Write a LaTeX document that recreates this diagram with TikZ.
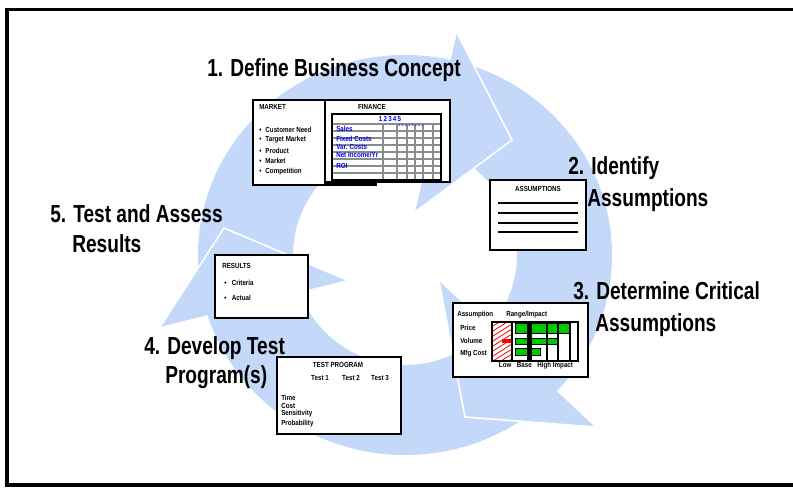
\documentclass[tikz,border=0pt]{standalone}
\usepackage{fontspec}
\setmainfont{Liberation Sans}
\newfontfamily\headfont[FakeStretch=0.775]{Liberation Sans}
\newfontfamily\smallfont[FakeStretch=0.85]{Liberation Sans}
\definecolor{ringblue}{RGB}{196,216,249}
\definecolor{chartgreen}{RGB}{0,200,0}
\definecolor{tblue}{RGB}{0,0,235}
\definecolor{gridgray}{RGB}{140,140,140}

\begin{document}
\begin{tikzpicture}[x=0.75pt,y=-0.75pt,
  steplabel/.style={font=\headfont\bfseries\fontsize{18.5}{21}\selectfont, inner sep=0pt, anchor=base west},
  slide/.style={draw=black, line width=1.5pt, fill=white},
  tinytext/.style={font=\smallfont\bfseries\fontsize{5.5}{6}\selectfont, inner sep=0pt},
  bluetext/.style={tinytext, text=tblue},
  seam/.style={white, line width=1.2pt, line join=miter},
  gridline/.style={gridgray, line width=0.8pt},
  bar/.style={fill=chartgreen, draw=black, line width=0.4pt}]

\clip (0,0) rectangle (793,488);
\fill[white] (0,0) rectangle (793,488);

% outer frame (its right side runs off the page)
\draw[line width=2.6pt] (800,9.5) -- (7,9.5) -- (7,485) -- (800,485);

% the cycle: a ring with three big arrowheads
\fill[ringblue, even odd rule] (405,255) ellipse [x radius=207, y radius=200]
                               (405,255) ellipse [x radius=112, y radius=110];
\fill[ringblue] (457,33) -- (512,140) -- (415,212) -- cycle;
\fill[ringblue] (595,427) -- (465,417) -- (439,281) -- cycle;
\fill[ringblue] (160,327) -- (224,228) -- (347,280) -- cycle;
% seams where each head meets the next tail
\draw[seam] (457,33) -- (512,140) -- (415,212);
\draw[seam] (595,427) -- (465,417) -- (439,281);
\draw[seam] (160,327) -- (224,228) -- (347,280);

% ---- slide 1: market + finance ----
\draw[slide] (253,100) rectangle (325,185);
\node[tinytext, anchor=west] (mkt) at (259,107) {MARKET};
\foreach \yy/\tt [count=\i] in {130/Customer Need,140/Target Market,151/Product/Service,161/Market,172/Competition}{
  \node[tinytext, anchor=west] (mb\i) at (259,\yy) {•\hspace{3pt}\tt};
}
\draw[slide] (325,100) rectangle (450,182);
\draw[line width=2.4pt] (325,184) -- (377,184);
\node[tinytext] (fin) at (372,107) {FINANCE};
\draw[line width=1.1pt] (332,114) rectangle (441,180);
\foreach \yy in {124,131,138,145,152,159,166,173}{\draw[gridline] (333,\yy) -- (440,\yy);}
\foreach \xx in {383,397,407,415,423,433}{\draw[gridline] (\xx,124) -- (\xx,179);}
\node[bluetext] (fh1) at (390,119) {1\,2\,3\,4\,5};
\node[bluetext] (fh2) at (411,126) {-\,-\,-\,-\,-\,-\,-\,-};
\node[bluetext, anchor=west] (fr1) at (336,129) {Sales};
\node[bluetext, anchor=west] (fr2) at (336,139) {Fixed Costs};
\node[bluetext, anchor=west] (fr3) at (336,147) {Var. Costs};
\node[bluetext, anchor=west] (fr4) at (336,155) {Net Income/Yr};
\node[bluetext, anchor=west] (fr5) at (336,166) {ROI};

% ---- slide 2: assumptions ----
\draw[slide] (490,180) rectangle (586,250);
\node[tinytext] (asm) at (538,189) {ASSUMPTIONS};
\foreach \yy in {203,213,223,232}{\draw[line width=1.2pt] (498,\yy) -- (578,\yy);}

% ---- slide 3: critical assumptions chart ----
\draw[slide] (453,303) rectangle (588,377);
\node[tinytext, anchor=west] (ch1) at (457,315) {Assumption};
\node[tinytext, anchor=west] (ch2) at (506,315) {Range/Impact};
\node[tinytext, anchor=west] (cr1) at (460,328) {Price};
\node[tinytext, anchor=west] (cr2) at (460,341) {Volume};
\node[tinytext, anchor=west] (cr3) at (460,354) {Mfg Cost};
\begin{scope}
  \clip (493,322) rectangle (512,361);
  \foreach \k in {0,...,10}{\draw[red, line width=0.6pt] (493,326+5*\k) -- (512,314+5*\k);}
\end{scope}
\draw[bar] (515,323) rectangle (570,333);
\draw[bar] (515,338) rectangle (557,344);
\fill[red] (502,339) rectangle (513,343);
\draw[bar] (515,348) rectangle (540,355);
\draw[line width=0.8pt] (492,322) rectangle (578,361);
\foreach \xx in {512,547,558,570}{\draw[line width=0.8pt] (\xx,322) -- (\xx,361);}
\fill[black] (527,322) rectangle (532,361);
\node[tinytext] (cax) at (536,366) {Low \; Base \; High Impact};

% ---- slide 4: test program ----
\draw[slide] (277,357) rectangle (401,434);
\node[tinytext] (tp) at (338,365) {TEST PROGRAM};
\node[tinytext] (tc1) at (320,378) {Test 1};
\node[tinytext] (tc2) at (351,378) {Test 2};
\node[tinytext] (tc3) at (380,378) {Test 3};
\node[tinytext, anchor=west] (tr1) at (281,398) {Time};
\node[tinytext, anchor=west] (tr2) at (281,406) {Cost};
\node[tinytext, anchor=west] (tr3) at (281,414) {Sensitivity};
\node[tinytext, anchor=west] (tr4) at (281,424) {Probability};

% ---- slide 5: results ----
\draw[slide] (215,255) rectangle (308,318);
\node[tinytext, anchor=west] (rs) at (222,266) {RESULTS};
\node[tinytext, anchor=west] (rb1) at (224,283) {•\hspace{4pt}Criteria};
\node[tinytext, anchor=west] (rb2) at (224,298) {•\hspace{4pt}Actual};

% ---- step labels ----
\node[steplabel] (l1) at (207,77) {1. Define Business Concept};
\node[steplabel] (l2a) at (568,175) {2. Identify};
\node[steplabel] (l2b) at (587,207) {Assumptions};
\node[steplabel] (l3a) at (573,300) {3. Determine Critical};
\node[steplabel] (l3b) at (595,332) {Assumptions};
\node[steplabel] (l4a) at (144,355) {4. Develop Test};
\node[steplabel] (l4b) at (165,383) {Program(s)};
\node[steplabel] (l5a) at (50,223) {5. Test and Assess};
\node[steplabel] (l5b) at (72,253) {Results};
\end{tikzpicture}
\end{document}
